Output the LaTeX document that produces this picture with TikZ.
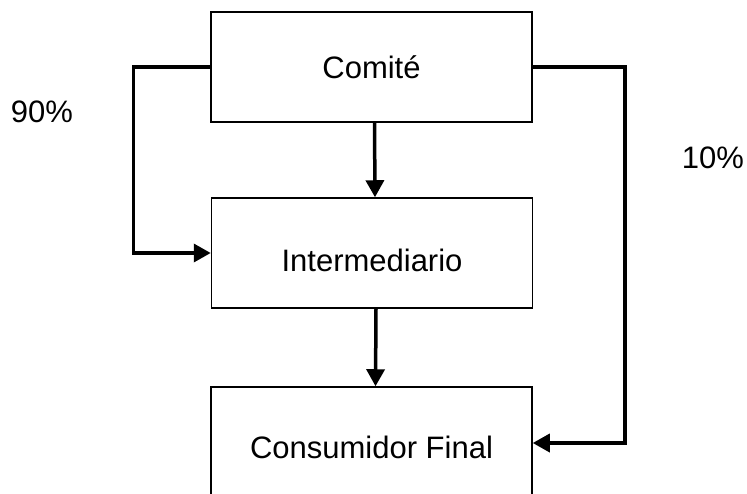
\documentclass[tikz,border=0pt]{standalone}
\usepackage{fontspec}
\setmainfont{Liberation Sans}
\usetikzlibrary{arrows.meta}

\begin{document}
\begin{tikzpicture}[x=1pt,y=-1pt,
  box/.style={draw,line width=1.5pt,minimum width=321pt,minimum height=110pt,
    inner sep=0pt,text height=22pt,text depth=0pt},
  flow/.style={line width=3.5pt,-{Triangle[length=17pt,width=18pt]}},
  pct/.style={inner sep=0pt,text height=22pt,text depth=0pt}]
  \useasboundingbox (0,0) rectangle (747,493);
  \fontsize{31}{37}\selectfont

  % boxes
  \node[box] (comite) at (371.5,67) {Comit\'e};
  \node[box,text height=36pt] (inter) at (372,253) {Intermediario};
  \node[box,text height=30pt,minimum height=112pt] (consumidor) at (371.5,443) {Consumidor Final};

  % shares
  \node[pct] (p90) at (42,111) {90\%};
  \node[pct] (p10) at (713,157) {10\%};

  % flows
  \draw[flow] ([xshift=3pt]comite.south) -- ([xshift=3pt]inter.north);
  \draw[flow] ([xshift=4pt]inter.south) -- ([xshift=4pt]consumidor.north);
  \draw[flow] (comite.west) -- ++(-77,0) |- (inter.west);
  \draw[flow] (comite.east) -- ++(92,0) |- (consumidor.east);
\end{tikzpicture}
\end{document}
